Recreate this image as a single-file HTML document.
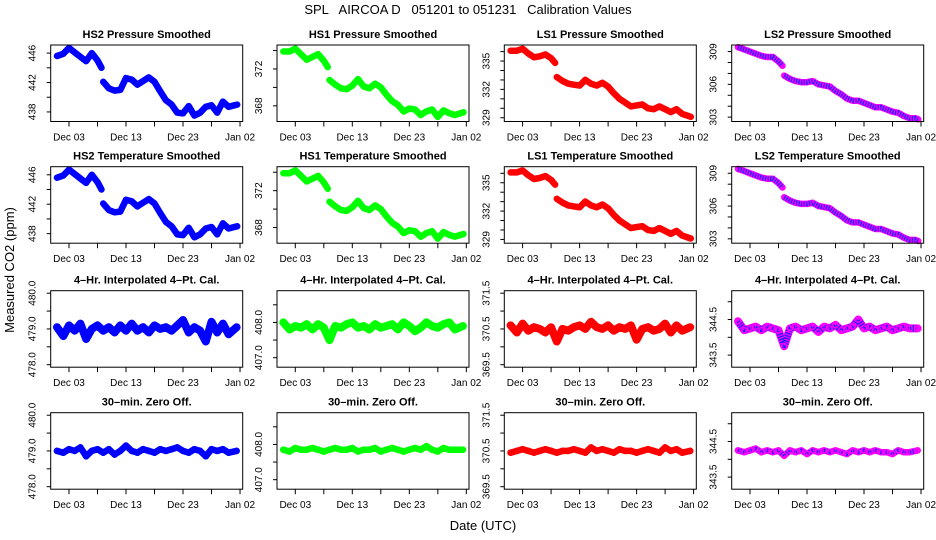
<!DOCTYPE html>
<html><head><meta charset="utf-8">
<style>
html,body{margin:0;padding:0;background:#fff;}
svg{display:block;font-family:"Liberation Sans",sans-serif;}
</style></head>
<body>
<svg id="chart" width="936" height="540" viewBox="0 0 936 540" xmlns="http://www.w3.org/2000/svg">
<rect x="0" y="0" width="936" height="540" fill="#fff"/>
<text x="468" y="14" font-size="13" text-anchor="middle" xml:space="preserve">SPL   AIRCOA D   051201 to 051231   Calibration Values</text>
<text transform="translate(14,270) rotate(-90)" font-size="13" text-anchor="middle">Measured CO2 (ppm)</text>
<text x="483" y="530" font-size="13" text-anchor="middle">Date (UTC)</text>
</svg>
<script>
// ---- data ----
const smoothDays = [0.9,2,3,4,5,6,7,8,8.7,8.8,9,10,11,12,13,14,15,16,17,18,19,20,21,22,23,24,25,26,27,28,29,30,31,32,32.5];
const hs2Smooth = [445.6,445.9,446.7,446.1,445.5,444.9,446.0,445.0,444.0,null,442.1,441.2,440.9,441.0,442.6,442.4,441.7,442.2,442.7,442.1,440.8,439.6,439.0,437.9,437.8,438.8,437.5,437.9,438.7,438.9,437.9,439.4,438.7,438.9,439.0];
const hs1Smooth = [373.9,373.9,374.2,373.6,373.0,373.3,373.6,372.9,372.2,null,370.8,370.3,369.9,369.8,370.2,370.9,370.1,369.9,370.4,370.0,369.2,368.5,368.1,367.4,367.7,367.6,367.0,367.4,367.6,366.8,367.5,367.2,367.0,367.2,367.3];
const ls1Smooth = [336.1,336.1,336.3,335.8,335.4,335.5,335.7,335.3,334.8,null,333.3,332.9,332.6,332.5,332.4,333.0,332.6,332.4,332.7,332.3,331.6,331.0,330.6,330.2,330.3,330.4,330.0,329.9,330.2,329.9,329.6,329.9,329.4,329.2,329.1];
const ls2Smooth = [309.4,309.2,309.0,308.8,308.6,308.5,308.5,308.1,307.7,null,306.8,306.5,306.3,306.2,306.2,306.3,306.0,305.9,305.8,305.4,305.1,304.7,304.5,304.5,304.3,304.1,303.9,303.9,303.7,303.5,303.4,303.1,302.9,302.9,302.8];

const calDays = [0.9,2,3,4,5,6,7,8,9,10,11,12,13,14,15,16,17,18,19,20,21,22,23,24,25,26,27,28,29,30,31,32.4];
const hs2Interp = [479.05,478.8,479.1,478.95,479.15,478.72,479.0,479.1,478.95,479.05,478.9,479.1,478.95,479.15,478.95,479.05,478.9,479.1,479.0,479.05,478.95,479.1,479.25,478.9,479.05,478.95,478.65,479.2,478.9,479.15,478.85,479.05];
const hs2Zero = [479.0,478.95,479.05,479.0,479.1,478.85,479.0,479.05,478.95,479.05,478.9,479.0,479.15,479.0,478.95,479.05,479.0,478.95,479.05,479.0,479.05,479.1,479.0,478.95,479.05,479.0,478.85,479.05,479.0,479.05,478.95,479.0];
const hs1Interp = [408.0,407.8,407.9,407.85,407.95,407.8,407.95,407.85,407.5,407.9,407.85,407.95,408.0,407.85,407.9,407.8,407.95,407.85,407.9,407.95,407.8,408.0,407.9,407.75,407.85,408.0,407.9,407.85,407.95,408.0,407.8,407.9];
const hs1Zero = [407.85,407.8,407.9,407.85,407.85,407.9,407.85,407.8,407.85,407.9,407.85,407.85,407.9,407.8,407.85,407.85,407.9,407.8,407.85,407.9,407.85,407.8,407.85,407.9,407.85,407.95,407.85,407.8,407.9,407.85,407.85,407.85];
const ls1Interp = [370.6,370.4,370.65,370.45,370.55,370.5,370.4,370.55,370.15,370.5,370.45,370.55,370.6,370.5,370.7,370.55,370.5,370.6,370.45,370.55,370.5,370.6,370.2,370.5,370.55,370.45,370.5,370.65,370.4,370.6,370.45,370.55];
const ls1Zero = [370.45,370.5,370.55,370.5,370.45,370.5,370.55,370.5,370.45,370.5,370.5,370.55,370.5,370.45,370.6,370.5,370.55,370.5,370.45,370.55,370.5,370.5,370.45,370.5,370.55,370.5,370.45,370.6,370.5,370.55,370.45,370.5];
const ls2Interp = [344.45,344.2,344.25,344.3,344.2,344.3,344.25,344.2,343.75,344.25,344.3,344.2,344.25,344.3,344.15,344.3,344.25,344.35,344.2,344.25,344.3,344.5,344.25,344.3,344.2,344.25,344.3,344.2,344.25,344.3,344.25,344.25];
const ls2Zero = [344.25,344.2,344.25,344.3,344.2,344.25,344.2,344.25,344.1,344.25,344.2,344.25,344.15,344.25,344.2,344.25,344.2,344.25,344.2,344.15,344.25,344.2,344.25,344.2,344.25,344.2,344.2,344.15,344.25,344.2,344.2,344.25];

const xTickDays = [3,8,13,18,23,28,33];
const xTickLabels = ["Dec 03","","Dec 13","","Dec 23","","Jan 02"];

// ---- layout ----
const NS = "http://www.w3.org/2000/svg";
const svg = document.getElementById('chart');
const colLefts = [50.7,277,504.3,731.7];
const rowTops = [45,166.7,290.7,412.7];
const PW = 192, PH = 76.5;
const X0 = -0.21, X1 = 33.47;

function mk(tag, attrs, parent){
  const e = document.createElementNS(NS, tag);
  for (const k in attrs) e.setAttribute(k, attrs[k]);
  (parent||svg).appendChild(e);
  return e;
}

function panel(col,row,name,title,ymin,ymax,yTicks,yLabels,days,vals,color,mode,lw){
  const L = colLefts[col], T = rowTops[row];
  const g = mk('g',{});
  
  
  const sx = d => L + (d - X0) / (X1 - X0) * PW;
  const sy = v => T + PH - (v - ymin) / (ymax - ymin) * PH;
  const t = mk('text',{x:L+PW/2,y:T-7,'font-size':11,'font-weight':'bold','text-anchor':'middle'},g);
  t.textContent = title;
  
  
  const sg = mk('g',{},g);
  
  
  const purple = color === 'purple';
  const main = purple ? '#ff00ff' : color;
  let segs = [], cur = [];
  days.forEach((d,i)=>{
    if (vals[i] === null || vals[i] === undefined){ if(cur.length) segs.push(cur); cur=[]; }
    else cur.push([sx(d), sy(vals[i])]);
  });
  if (cur.length) segs.push(cur);
  segs.forEach(s=>{
    const pts = s.map(p=>p[0].toFixed(1)+','+p[1].toFixed(1)).join(' ');
    const pl = mk('polyline',{points:pts,fill:'none',stroke:main,'stroke-width':lw,'stroke-linejoin':'round','stroke-linecap':'round'},sg);
    
    
    if (purple){
      const p2 = mk('polyline',{points:pts,fill:'none',stroke:'#2020ff','stroke-width':lw-1.5,'stroke-dasharray':'1.3 1.3','stroke-linejoin':'round'},sg);
      
      
    }
  });
  if (mode === 'cal'){
    days.forEach((d,i)=>{
      const c = mk('circle',{cx:sx(d).toFixed(1),cy:sy(vals[i]).toFixed(1),r:2.6,fill:'none',stroke:main,'stroke-width':1.4},sg);
      
      
    });
  }
  const b = mk('rect',{x:L,y:T,width:PW,height:PH,fill:'none',stroke:'#000','stroke-width':1},g);
  
  
  yTicks.forEach((v,i)=>{
    const y = sy(v);
    const tk = mk('line',{x1:L-4,x2:L,y1:y,y2:y,stroke:'#000','stroke-width':1},g);
    
    
    if (yLabels[i]){
      const tl = mk('text',{transform:'translate('+(L-15)+','+y.toFixed(1)+') rotate(-90)','font-size':10,'text-anchor':'middle'},g);
      tl.textContent = yLabels[i];
      
      
    }
  });
  xTickDays.forEach((d,i)=>{
    const x = sx(d);
    const tk = mk('line',{x1:x,x2:x,y1:T+PH,y2:T+PH+5,stroke:'#000','stroke-width':1},g);
    
    
    if (xTickLabels[i]){
      const tl = mk('text',{x:x,y:T+PH+19,'font-size':10,'text-anchor':'middle'},g);
      tl.textContent = xTickLabels[i];
      
      
    }
  });
}

const c1T=[438,440,442,444,446], c1L=["438","","442","","446"];
const c2T=[368,370,372,374], c2L=["368","","372",""];
const c3T=[329,330,331,332,333,334,335,336], c3L=["329","","","332","","","335",""];
const c4T=[303,304,305,306,307,308,309], c4L=["303","","","306","","","309"];
const r1T=[478,478.5,479,479.5,480], r1L=["478.0","","479.0","","480.0"];
const r2T=[407,407.5,408,408.5], r2L=["407.0","","408.0",""];
const r3T=[369.5,370,370.5,371,371.5], r3L=["369.5","","370.5","","371.5"];
const r4T=[343.5,344,344.5,345], r4L=["343.5","","344.5",""];

panel(0,0,'hs2-pressure-panel','HS2 Pressure Smoothed',436.7,447.1,c1T,c1L,smoothDays,hs2Smooth,'#0000ff','smooth',6.5);
panel(1,0,'hs1-pressure-panel','HS1  Pressure Smoothed',366.3,374.6,c2T,c2L,smoothDays,hs1Smooth,'#00ff00','smooth',6.5);
panel(2,0,'ls1-pressure-panel','LS1 Pressure Smoothed',328.6,336.7,c3T,c3L,smoothDays,ls1Smooth,'#ff0000','smooth',6.5);
panel(3,0,'ls2-pressure-panel','LS2 Pressure Smoothed',302.6,309.6,c4T,c4L,smoothDays,ls2Smooth,'purple','smooth',6.5);
panel(0,1,'hs2-temperature-panel','HS2 Temperature Smoothed',436.7,447.1,c1T,c1L,smoothDays,hs2Smooth,'#0000ff','smooth',6.5);
panel(1,1,'hs1-temperature-panel','HS1 Temperature Smoothed',366.3,374.6,c2T,c2L,smoothDays,hs1Smooth,'#00ff00','smooth',6.5);
panel(2,1,'ls1-temperature-panel','LS1 Temperature Smoothed',328.6,336.7,c3T,c3L,smoothDays,ls1Smooth,'#ff0000','smooth',6.5);
panel(3,1,'ls2-temperature-panel','LS2 Temperature Smoothed',302.6,309.6,c4T,c4L,smoothDays,ls2Smooth,'purple','smooth',6.5);
panel(0,2,'hs2-interp-panel','4\u2013Hr. Interpolated 4\u2013Pt. Cal.',477.93,480.07,r1T,r1L,calDays,hs2Interp,'#0000ff','cal',8);
panel(1,2,'hs1-interp-panel','4\u2013Hr. Interpolated 4\u2013Pt. Cal.',406.73,408.9,r2T,r2L,calDays,hs1Interp,'#00ff00','cal',8);
panel(2,2,'ls1-interp-panel','4\u2013Hr. Interpolated 4\u2013Pt. Cal.',369.43,371.57,r3T,r3L,calDays,ls1Interp,'#ff0000','cal',8);
panel(3,2,'ls2-interp-panel','4\u2013Hr. Interpolated 4\u2013Pt. Cal.',343.16,345.31,r4T,r4L,calDays,ls2Interp,'purple','cal',8);
panel(0,3,'hs2-zero-panel','30\u2013min. Zero Off.',477.93,480.07,r1T,r1L,calDays,hs2Zero,'#0000ff','cal',6.5);
panel(1,3,'hs1-zero-panel','30\u2013min. Zero Off.',406.73,408.9,r2T,r2L,calDays,hs1Zero,'#00ff00','cal',6.5);
panel(2,3,'ls1-zero-panel','30\u2013min. Zero Off.',369.43,371.57,r3T,r3L,calDays,ls1Zero,'#ff0000','cal',6.5);
panel(3,3,'ls2-zero-panel','30\u2013min. Zero Off.',343.16,345.31,r4T,r4L,calDays,ls2Zero,'purple','cal',6.5);
</script>
</body></html>
